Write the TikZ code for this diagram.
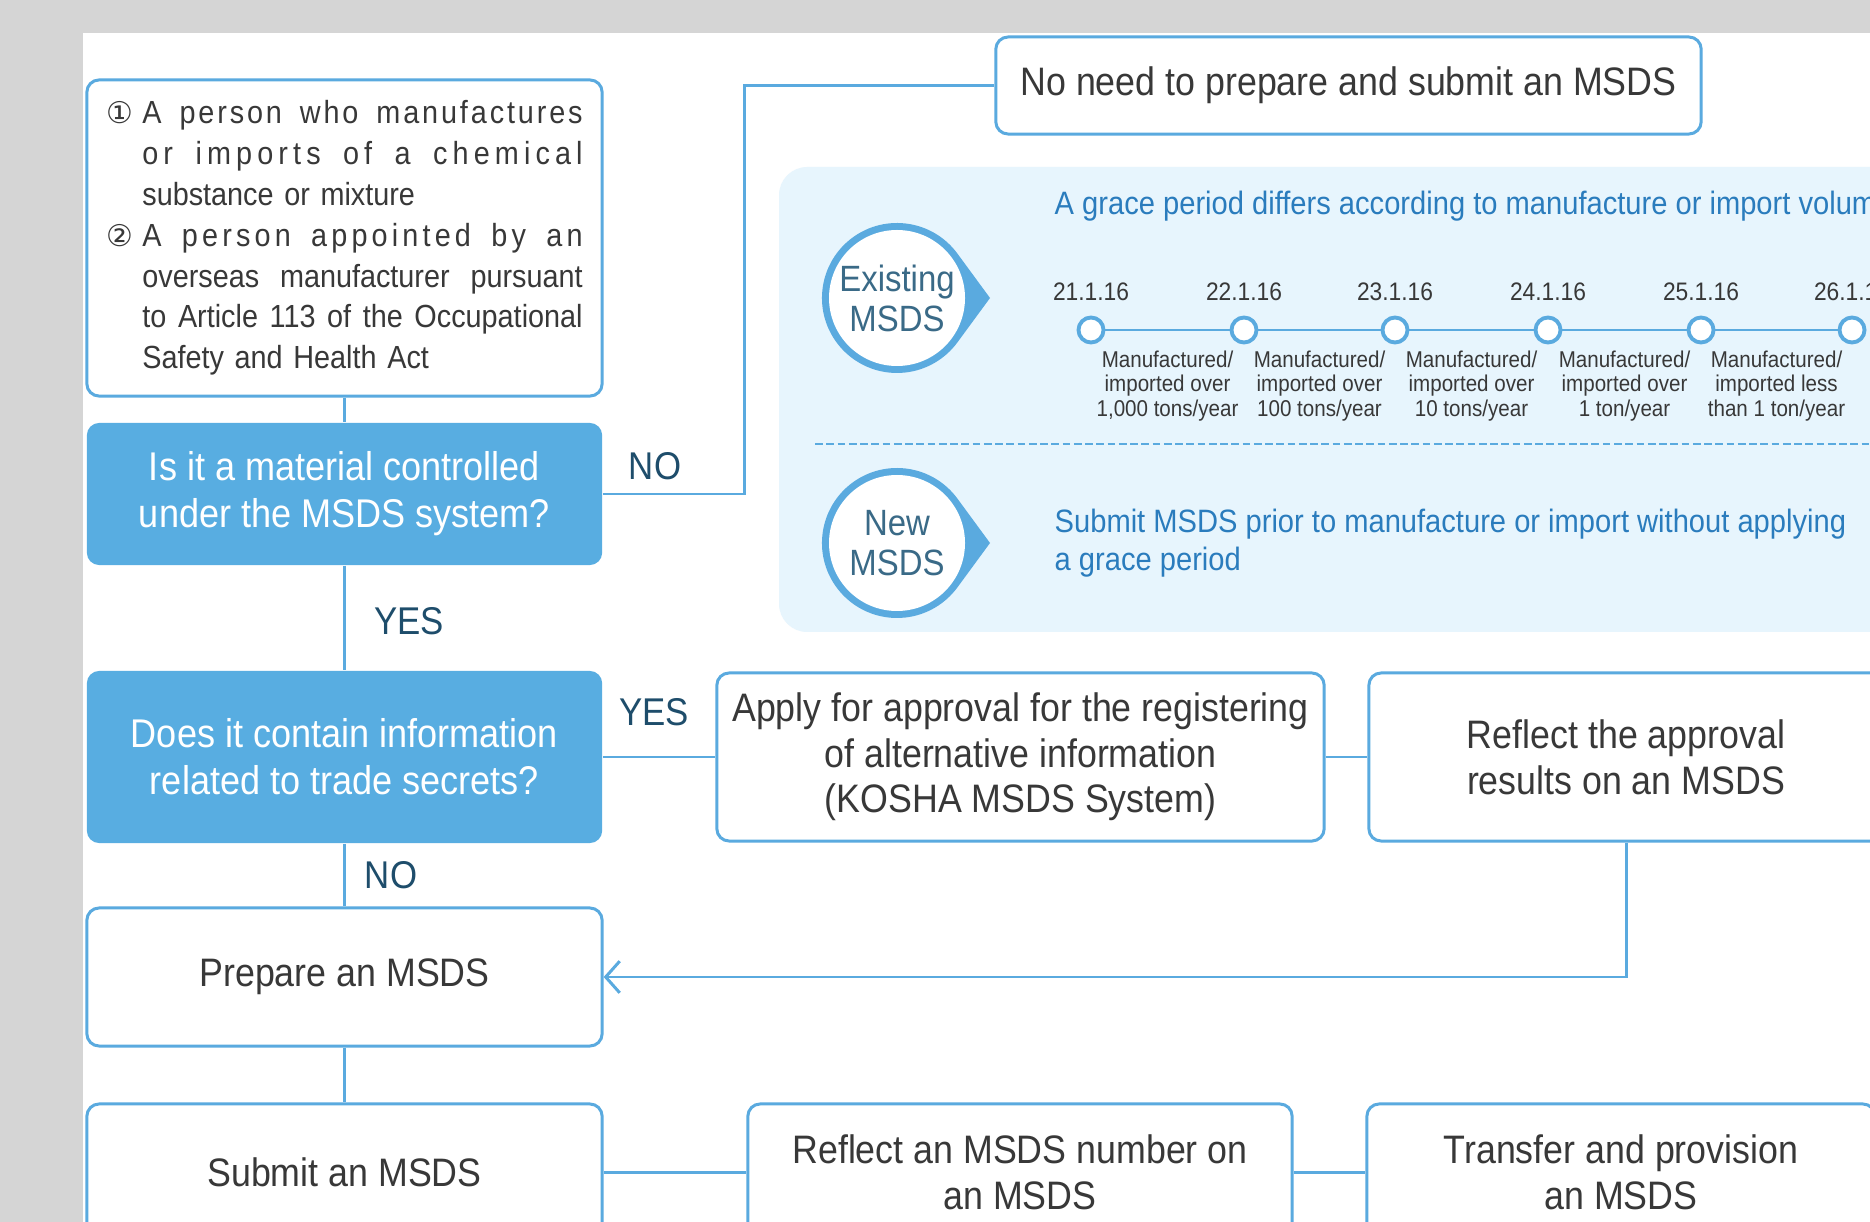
\documentclass[tikz,border=0pt]{standalone}
\usepackage{fontspec}
\setmainfont{Liberation Sans}[FakeStretch=0.9]
\newfontfamily\circfont{DejaVu Sans}
\usetikzlibrary{arrows.meta}
\definecolor{lineblue}{HTML}{5AAADF}
\definecolor{askblue}{HTML}{58ADE1}
\definecolor{navy}{HTML}{1E4D6B}
\definecolor{textgray}{HTML}{383838}
\definecolor{panelblue}{HTML}{E7F5FD}
\definecolor{graceblue}{HTML}{2A7CBD}
\definecolor{bubbletext}{HTML}{3A6A87}
\definecolor{bggray}{HTML}{D5D5D5}
\newcommand{\circnum}[1]{\makebox[0.36cm][l]{\circfont\fontsize{8.5}{10}\selectfont #1}}
\newcommand{\spread}[2]{\makebox[4.4cm][s]{\addfontfeatures{LetterSpace=#1}\spaceskip=0.25em plus 1fil\relax #2}}
\tikzset{
	box/.style={draw=lineblue,line width=0.85pt,rounded corners=3.5pt,fill=white,text=textgray,align=center,inner sep=2pt,font=\fontsize{11.3}{13}\selectfont},
	ask/.style={fill=askblue,rounded corners=3.5pt,text=white,align=center,font=\fontsize{11.4}{13.4}\selectfont},
	answer/.style={text=navy,font=\fontsize{11}{13}\selectfont},
	link/.style={draw=lineblue,line width=0.85pt},
	-barb/.style={-{Straight Barb[length=4pt,width=9pt]}},
	bubble/.style={fill=lineblue},
	hole/.style={fill=white},
	bubbletxt/.style={text=bubbletext,align=center,font=\fontsize{10.4}{11.4}\selectfont},
	dot/.style={circle,draw=lineblue,line width=1.1pt,fill=white,minimum size=0.25cm,inner sep=0pt},
	date/.style={text=textgray,font=\fontsize{7.2}{8}\selectfont},
	vol/.style={text=textgray,align=center,font=\fontsize{6.5}{7}\selectfont},
	grace/.style={text=graceblue,align=left,inner sep=0pt,font=\fontsize{9.2}{10.8}\selectfont}
}
\begin{document}
\begin{tikzpicture}[x=0.01cm,y=-0.01cm]
	\useasboundingbox (0,0) rectangle (1870,1222);
	\clip (0,0) rectangle (1870,1222);
	\fill[bggray] (0,0) rectangle (1870,1222);
	\fill[white] (83,33) rectangle (1870,1222);
	\fill[panelblue,rounded corners=8pt] (779,167) rectangle (1900,632);
	\draw[lineblue,line width=0.6pt,dash pattern=on 2.2pt off 1pt] (815,444) -- (1870,444);

	\node[box,align=left,text width=4.76cm,minimum width=5.15cm,minimum height=3.16cm,font=\fontsize{9.1}{11.6}\selectfont] (cond) at (344.5,238) {\circnum{①}\spread{9}{A person who manufactures}\\
		\hspace*{0.36cm}\spread{16}{or imports of a chemical}\\
		\hspace*{0.36cm}substance or mixture\\
		\circnum{②}\spread{13}{A person appointed by an}\\
		\hspace*{0.36cm}\spread{0}{overseas manufacturer pursuant}\\
		\hspace*{0.36cm}\spread{0}{to Article 113 of the Occupational}\\
		\hspace*{0.36cm}Safety and Health Act};
	\node[ask,minimum width=5.15cm,minimum height=1.42cm] (ask1) at (344.5,494) {Is it a material controlled\\under the MSDS system?};
	\node[ask,minimum width=5.15cm,minimum height=1.72cm] (ask2) at (344.5,757) {Does it contain information\\related to trade secrets?};
	\node[box,minimum width=5.15cm,minimum height=1.38cm] (prep) at (344.5,977) {Prepare an MSDS};
	\node[box,minimum width=5.15cm,minimum height=1.36cm] (submit) at (344.5,1172) {Submit an MSDS};
	\node[box,minimum width=7.05cm,minimum height=0.97cm] (noneed) at (1348.5,85.5) {No need to prepare and submit an MSDS};
	\node[box,minimum width=6.07cm,minimum height=1.68cm] (apply) at (1020.5,757) {Apply for approval for the registering\\of alternative information\\(KOSHA MSDS System)};
	\node[box,minimum width=5.14cm,minimum height=1.68cm] (approval) at (1626,757) {Reflect the approval\\results on an MSDS};
	\node[box,minimum width=5.44cm,minimum height=1.36cm] (number) at (1020,1172) {Reflect an MSDS number on\\an MSDS};
	\node[box,minimum width=5.08cm,minimum height=1.36cm] (transfer) at (1621,1172) {Transfer and provision\\an MSDS};

	\fill[bubble] (990,298) -- (957.4,253.6) arc[start angle=-36.3,end angle=-323.7,radius=75] -- cycle;
	\fill[hole] (897,298) circle[radius=68];
	\node[bubbletxt] (exist) at (897,298) {Existing\\MSDS};
	\fill[bubble] (990,543) -- (957.4,498.6) arc[start angle=-36.3,end angle=-323.7,radius=75] -- cycle;
	\fill[hole] (897,543) circle[radius=68];
	\node[bubbletxt] (new) at (897,543) {New\\MSDS};
	\node[grace,anchor=west] (gracetxt) at (1054,206) {A grace period differs according to manufacture or import volume};
	\node[grace,anchor=west] (newtxt) at (1054,543) {Submit MSDS prior to manufacture or import without applying\\a grace period};

	\node[date] (t1) at (1091,292) {21.1.16};
	\node[date] (t2) at (1244,292) {22.1.16};
	\node[date] (t3) at (1395,292) {23.1.16};
	\node[date] (t4) at (1548,292) {24.1.16};
	\node[date] (t5) at (1701,292) {25.1.16};
	\node[date] (t6) at (1852,292) {26.1.16};
	\node[dot] (d1) at (1091,330) {};
	\node[dot] (d2) at (1244,330) {};
	\node[dot] (d3) at (1395,330) {};
	\node[dot] (d4) at (1548,330) {};
	\node[dot] (d5) at (1701,330) {};
	\node[dot] (d6) at (1852,330) {};
	\draw[link] (d1) -- (d2) -- (d3) -- (d4) -- (d5) -- (d6);
	\node[vol] (v1) at (1167.5,386) {Manufactured/\\imported over\\1,000 tons/year};
	\node[vol] (v2) at (1319.5,386) {Manufactured/\\imported over\\100 tons/year};
	\node[vol] (v3) at (1471.5,386) {Manufactured/\\imported over\\10 tons/year};
	\node[vol] (v4) at (1624.5,386) {Manufactured/\\imported over\\1 ton/year};
	\node[vol] (v5) at (1776.5,386) {Manufactured/\\imported less\\than 1 ton/year};

	\node[coordinate] (nob) at (744,494) {};
	\draw[link] (cond) -- (ask1);
	\draw[link] (ask1) -- (nob) |- (noneed);
	\draw[link] (ask1) -- (ask2);
	\draw[link] (ask2) -- (apply);
	\draw[link] (apply) -- (approval);
	\draw[link,-barb] (approval) |- (prep);
	\draw[link] (ask2) -- (prep);
	\draw[link] (prep) -- (submit);
	\draw[link] (submit) -- (number);
	\draw[link] (number) -- (transfer);

	\node[answer] (no1) at (655,466) {NO};
	\node[answer] (yes1) at (409,621) {YES};
	\node[answer] (yes2) at (654,712) {YES};
	\node[answer] (no2) at (391,875) {NO};
\end{tikzpicture}
\end{document}
